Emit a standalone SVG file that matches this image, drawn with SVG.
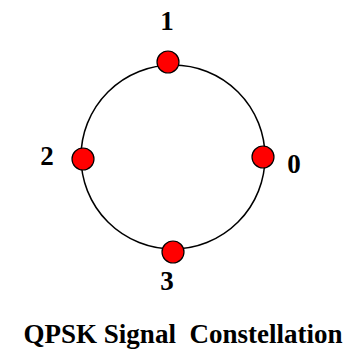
<svg xmlns="http://www.w3.org/2000/svg" width="360" height="360" viewBox="0 0 360 360">
<style>
.lbl{font-family:"Liberation Serif","Times New Roman",serif;font-weight:bold;font-size:27px;fill:#000;text-anchor:middle}
.pt{fill:#ff0000;stroke:#000;stroke-width:1.2}
</style>
<rect width="360" height="360" fill="#fff"/>
<g id="connectors">
<circle cx="173" cy="157" r="92" fill="none" stroke="#000" stroke-width="1.5"/>
</g>
<g id="p1"><circle class="pt" cx="168" cy="62" r="11"/><text class="lbl" x="167" y="30">1</text></g>
<g id="p2"><circle class="pt" cx="83" cy="159" r="11"/><text class="lbl" x="47" y="165">2</text></g>
<g id="p0"><circle class="pt" cx="263" cy="157" r="11"/><text class="lbl" x="294" y="173">0</text></g>
<g id="p3"><circle class="pt" cx="173" cy="252" r="11"/><text class="lbl" x="167" y="290">3</text></g>
<text class="lbl" x="183" y="343" style="white-space:pre">QPSK Signal  Constellation</text>
</svg>
